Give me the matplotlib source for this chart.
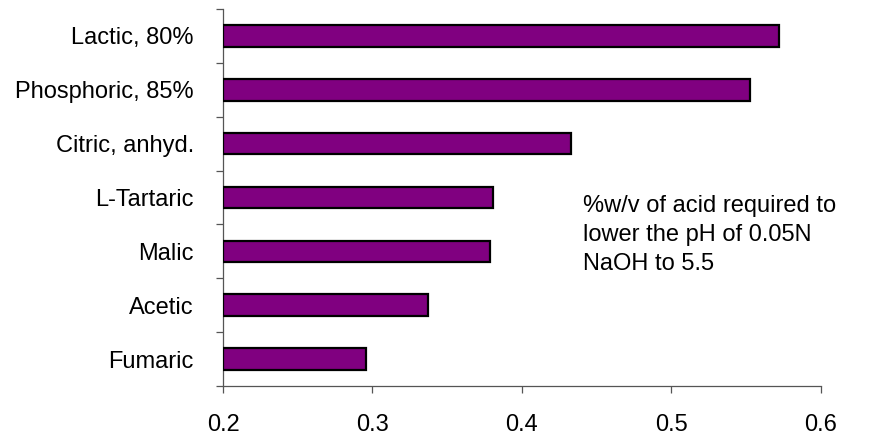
import matplotlib
matplotlib.use('Agg')
import matplotlib.pyplot as plt
from matplotlib.ticker import FixedLocator

acids = ["Lactic, 80%", "Phosphoric, 85%", "Citric, anhyd.", "L-Tartaric",
         "Malic", "Acetic", "Fumaric"]
values = [0.572, 0.553, 0.433, 0.381, 0.379, 0.337, 0.296]
x_ticks = [0.2, 0.3, 0.4, 0.5, 0.6]
x_tick_labels = ["0.2", "0.3", "0.4", "0.5", "0.6"]
axis_min = 0.2
axis_max = 0.6
note = "%w/v of acid required to\nlower the pH of 0.05N\nNaOH to 5.5"

plt.rcParams['font.family'] = ['Liberation Sans', 'DejaVu Sans']

W, H = 885, 440
fig = plt.figure(figsize=(W / 100, H / 100), dpi=100)
ax = fig.add_axes([223 / W, 54 / H, (820.7 - 223) / W, (386 - 9) / H])

n = len(acids)
pos = list(range(n - 1, -1, -1))
widths = [v - axis_min for v in values]
ax.barh(pos, widths, left=axis_min, height=0.4, color='#800080',
        edgecolor='black', linewidth=1.6, zorder=3)

ax.set_xlim(axis_min, axis_max)
ax.set_ylim(-0.5, n - 0.5)

axis_color = '#555555'
for s in ['top', 'right']:
    ax.spines[s].set_visible(False)
for s in ['left', 'bottom']:
    ax.spines[s].set_color(axis_color)
    ax.spines[s].set_linewidth(0.9)

ax.set_yticks(pos)
ax.set_yticklabels(acids)
ax.tick_params(axis='y', which='major', length=0, pad=21, labelsize=17)
ax.yaxis.set_minor_locator(FixedLocator([i - 0.5 for i in range(n + 1)]))
ax.tick_params(axis='y', which='minor', length=5, width=0.9,
               color=axis_color, direction='out')

ax.set_xticks(x_ticks)
ax.set_xticklabels(x_tick_labels)
ax.tick_params(axis='x', which='major', length=5, width=0.9,
               color=axis_color, direction='out', pad=15, labelsize=17)

fig.text(583 / W, 1 - 195 / H, note, va='top', ha='left', fontsize=17,
         linespacing=1.42)

fig.savefig('out.png', dpi=100)
